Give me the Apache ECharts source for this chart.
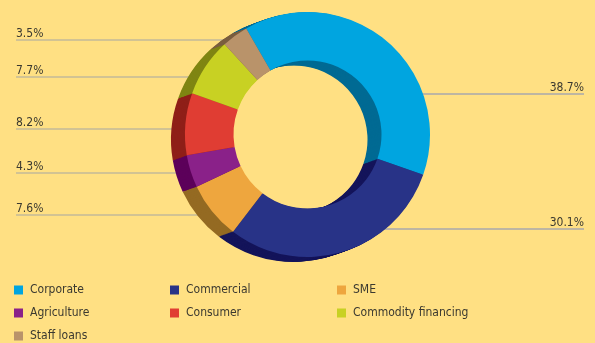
<!DOCTYPE html>
<html>
<head>
<meta charset="utf-8">
<style>
  html, body { margin: 0; padding: 0; background: #FFE083; }
  #chart { width: 595px; height: 343px; }
</style>
<script src="https://cdn.jsdelivr.net/npm/echarts@6/dist/echarts.min.js"></script>
</head>
<body>
<div id="chart"></div>
<script>
// Loan portfolio by segment (%)
const categories = ['Corporate', 'Commercial', 'SME', 'Agriculture', 'Consumer', 'Commodity financing', 'Staff loans'];
const shares = [38.7, 30.1, 7.6, 4.3, 8.2, 7.7, 3.5];

// Face and side colours of each segment
const faceColors = ['#00A5E0', '#283387', '#EEA63E', '#8A2189', '#E03D33', '#C8D123', '#B9936A'];
const sideColors = ['#006A93', '#14145A', '#946A22', '#5C005A', '#8F1F18', '#7F8512', '#7A5E3F'];

// Legend columns (names per column)
const legendColumns = [
  ['Corporate', 'Agriculture', 'Staff loans'],
  ['Commercial', 'Consumer'],
  ['SME', 'Commodity financing']
];

// ---- layout ----
const FONT = "'Liberation Sans Narrow', 'DejaVu Sans Condensed', 'Roboto', sans-serif";
const TEXT = '#3B3930';
const front = { x: 307.5, y: 134.5 };
const depth = { x: -14, y: 5 };     // extrusion toward the back face
const radius = [74, 122.5];
const layers = 14;
// leader rows: height of the rule and which margin the value sits on
const labelRows = [
  { y: 94, side: 'right' },
  { y: 229, side: 'right' },
  { y: 215, side: 'left' },
  { y: 173, side: 'left' },
  { y: 129, side: 'left' },
  { y: 77, side: 'left' },
  { y: 40, side: 'left' }
];
const marginL = 16, marginR = 584;
const back = { x: front.x + depth.x, y: front.y + depth.y };

function ringX(rowY, side) {
  const rm = (radius[0] + radius[1]) / 2;
  const dy = rowY - back.y;
  const dx = Math.sqrt(Math.max(0, rm * rm - dy * dy));
  return side === 'left' ? back.x - dx : back.x + dx;
}

function sliceData(colors) {
  return categories.map((name, i) => ({
    name: name,
    value: shares[i],
    itemStyle: { color: colors[i] }
  }));
}

const series = [];
for (let k = 0; k <= layers; k++) {
  const t = k / layers;
  const isFace = k === layers;
  const isBack = k === 0;
  const s = {
    type: 'pie',
    z: 2 + k,
    silent: true,
    animation: false,
    avoidLabelOverlap: false,
    startAngle: 120,
    clockwise: true,
    center: [back.x - depth.x * t, back.y - depth.y * t],
    radius: radius,
    data: sliceData(isFace ? faceColors : sideColors),
    label: { show: false },
    labelLine: { show: false }
  };
  if (isBack) {
    s.label = {
      show: true,
      position: 'outside',
      formatter: '{c}%',
      color: TEXT,
      fontFamily: FONT,
      fontSize: 12,
      lineHeight: 14
    };
    s.labelLine = {
      show: true,
      lineStyle: { color: '#BDB7A0', width: 1.3 }
    };
    s.data.forEach((d, i) => {
      d.labelLine = { lineStyle: { color: labelRows[i].side === 'right' ? '#A9A9AC' : '#C3BA98' } };
    });
    s.labelLayout = function (p) {
      const row = labelRows[p.dataIndex];
      const left = row.side === 'left';
      const edge = left ? marginL : marginR;
      const inner = ringX(row.y, row.side);
      return {
        x: edge,
        y: row.y + 1,
        align: left ? 'left' : 'right',
        verticalAlign: 'bottom',
        labelLinePoints: [[inner, row.y], [inner, row.y], [edge, row.y]]
      };
    };
  }
  series.push(s);
}

const colLeft = [14, 170, 337];
const legend = legendColumns.map((names, c) => ({
  orient: 'vertical',
  left: colLeft[c],
  top: 283,
  itemWidth: 9,
  itemHeight: 9,
  itemGap: 9,
  icon: 'rect',
  selectedMode: false,
  padding: 0,
  textStyle: { color: TEXT, fontFamily: FONT, fontSize: 12, lineHeight: 14, padding: [0, 0, 0, 2] },
  data: names.map(n => ({ name: n, itemStyle: { color: faceColors[categories.indexOf(n)] } }))
}));

const chart = echarts.init(document.getElementById('chart'), null, { renderer: 'canvas' });
chart.setOption({
  backgroundColor: '#FFE083',
  animation: false,
  legend: legend,
  series: series
});
</script>
</body>
</html>
